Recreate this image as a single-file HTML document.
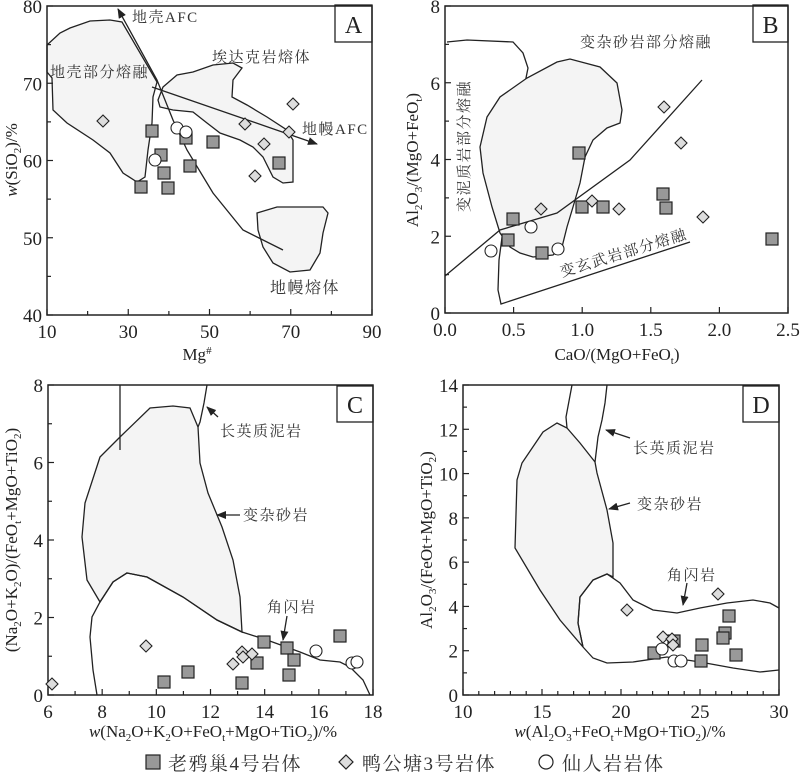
<!DOCTYPE html>
<html><head><meta charset="utf-8"><style>
body{margin:0;background:#fff}
svg{display:block}
text{font-family:"Liberation Serif","Noto Serif CJK SC",serif;fill:#222}
.cj{font-family:"Liberation Serif","Noto Serif CJK SC",serif;font-size:15px;fill:#333;letter-spacing:1.5px}
.ln{fill:none;stroke:#222;stroke-width:1.3}
.fl{fill:#f4f4f4;stroke:#222;stroke-width:1.3}
.ax{fill:none;stroke:#222;stroke-width:1.5}
</style></head><body>
<svg id="s" width="800" height="776" xmlns="http://www.w3.org/2000/svg">
<defs><marker id="ar" markerWidth="10" markerHeight="8" refX="9" refY="4" orient="auto" markerUnits="userSpaceOnUse"><path d="M0,0 L10,4 L0,8 z" fill="#222"/></marker></defs>

<!-- Panel A -->
<path class="fl" d="M47,45 L60,33 L70,28 L90,21 L110,20 L122,22 L157,82 L153,97 L152,123 L148,150 L145,177 L137,182 L123,173 L110,153 L93,140 L67,123 L53,110 L52,78 L47,72 Z"/>
<path class="fl" d="M158,100 L163,87 L177,75 L193,72 L213,65 L233,63 L242,68 L233,80 L232,97 L247,105 L267,117 L287,130 L293,140 L293,182 L283,183 L273,177 L263,157 L253,147 L240,140 L220,133 L207,123 L193,112 L173,110 L160,107 Z"/>
<path class="fl" d="M257,213 L277,207 L323,207 L328,213 L323,233 L320,253 L310,270 L290,272 L273,263 L263,247 L258,230 Z"/>
<path class="ln" d="M283,250 L243,230 L213,193 L187,150 L173,120 L157,80 L118,9" marker-end="url(#ar)"/>
<path class="ln" d="M152,87 L317,144" marker-end="url(#ar)"/>
<text class="cj" x="132" y="22">地壳AFC</text>
<text class="cj" x="50" y="77">地壳部分熔融</text>
<text class="cj" x="212" y="62">埃达克岩熔体</text>
<text class="cj" x="302" y="134">地幔AFC</text>
<text class="cj" x="270" y="293" style="font-size:16px">地幔熔体</text>
<rect x="335" y="5" width="37" height="37" fill="#fff" stroke="#222" stroke-width="1.3"/>
<text x="353.5" y="33" text-anchor="middle" font-size="24">A</text>

<!-- Panel B -->
<path class="ln" d="M447,42 L467,40 L513,42 L523,53 L528,68 L525,83 L513,107 L500,130 L492,150 L493,180 L498,207 L503,230 L499,260 L498,290 L501,304 L690,242"/>
<path class="fl" d="M480,147 L487,117 L500,97 L527,78 L557,62 L570,59 L600,67 L617,83 L622,110 L620,123 L607,128 L593,140 L585,157 L580,183 L573,207 L567,227 L562,247 L553,255 L533,257 L520,253 L510,247 L500,233 L492,207 L483,173 Z"/>
<path class="ln" d="M445,276 L500,230 L557,213 L630,160 L702,80"/>
<text class="cj" x="580" y="47">变杂砂岩部分熔融</text>
<text class="cj" transform="translate(469,212) rotate(-90)">变泥质岩部分熔融</text>
<text class="cj" transform="translate(562,277) rotate(-17)">变玄武岩部分熔融</text>
<rect x="753" y="5" width="35" height="37" fill="#fff" stroke="#222" stroke-width="1.3"/>
<text x="770.5" y="33" text-anchor="middle" font-size="24">B</text>

<!-- Panel C -->
<path class="fl" d="M100,602 L87,580 L82,537 L85,503 L100,457 L120,437 L150,408 L173,406 L190,408 L198,427 L200,463 L208,493 L222,527 L233,560 L240,597 L242,632 L217,620 L183,597 L147,577 L127,573 L113,582 Z"/>
<path class="ln" d="M97,695 L93,670 L90,637 L92,617 L100,602 L113,582 L127,573 L147,577 L183,597 L217,620 L242,632 L267,640 L300,652 L320,660 L340,662 L350,667 L363,680 L370,695"/>
<path class="ln" d="M120,385 L120,450 M207,385 L204,403 L200,422 L198,427"/>
<path class="ln" d="M218,417 L207,407" marker-end="url(#ar)"/>
<text class="cj" x="220" y="436">长英质泥岩</text>
<path class="ln" d="M240,515 L217,515" marker-end="url(#ar)"/>
<text class="cj" x="243" y="520">变杂砂岩</text>
<path class="ln" d="M287,616 L283,640" marker-end="url(#ar)"/>
<text class="cj" x="267" y="612">角闪岩</text>
<rect x="337" y="386" width="36" height="36" fill="#fff" stroke="#222" stroke-width="1.3"/>
<text x="355" y="413" text-anchor="middle" font-size="24">C</text>

<!-- Panel D -->
<path class="fl" d="M515,548 L517,480 L522,463 L543,432 L557,423 L567,428 L580,443 L595,462 L597,473 L607,510 L613,543 L613,577 L607,574 L593,580 L580,597 L578,623 L583,647 L560,620 L540,590 Z"/>
<path class="ln" d="M583,647 L578,623 L580,597 L593,580 L607,574 L620,583 L633,600 L653,610 L677,613 L700,608 L727,603 L753,600 L770,603 L779,608 M779,670 L760,672 L733,668 L700,662 L667,657 L633,662 L607,663 L593,658 L583,647"/>
<path class="ln" d="M572,385 L566,417 L567,428 M607,385 L605,403 L602,420 L598,437 L595,462"/>
<path class="ln" d="M630,438 L606,430" marker-end="url(#ar)"/>
<text class="cj" x="633" y="453">长英质泥岩</text>
<path class="ln" d="M630,503 L609,509" marker-end="url(#ar)"/>
<text class="cj" x="637" y="509">变杂砂岩</text>
<path class="ln" d="M687,583 L683,605" marker-end="url(#ar)"/>
<text class="cj" x="667" y="580">角闪岩</text>
<rect x="743" y="386" width="36" height="36" fill="#fff" stroke="#222" stroke-width="1.3"/>
<text x="761" y="413" text-anchor="middle" font-size="24">D</text>

<!-- axis titles -->
<text x="197" y="360" text-anchor="middle" font-size="17">Mg<tspan dy="-6" font-size="11">#</tspan></text>
<text transform="translate(17,160) rotate(-90)" text-anchor="middle" font-size="17"><tspan font-style="italic">w</tspan>(SiO<tspan dy="4" font-size="11">2</tspan><tspan dy="-4">)/%</tspan></text>
<text x="617" y="360" text-anchor="middle" font-size="17">CaO/(MgO+FeO<tspan dy="4" font-size="11">t</tspan><tspan dy="-4">)</tspan></text>
<text transform="translate(418,160) rotate(-90)" text-anchor="middle" font-size="17">Al<tspan dy="4" font-size="11">2</tspan><tspan dy="-4">O</tspan><tspan dy="4" font-size="11">3</tspan><tspan dy="-4">/(MgO+FeO</tspan><tspan dy="4" font-size="11">t</tspan><tspan dy="-4">)</tspan></text>
<text x="213" y="737" text-anchor="middle" font-size="17"><tspan font-style="italic">w</tspan>(Na<tspan dy="4" font-size="11">2</tspan><tspan dy="-4">O+K</tspan><tspan dy="4" font-size="11">2</tspan><tspan dy="-4">O+FeO</tspan><tspan dy="4" font-size="11">t</tspan><tspan dy="-4">+MgO+TiO</tspan><tspan dy="4" font-size="11">2</tspan><tspan dy="-4">)/%</tspan></text>
<text transform="translate(17,540) rotate(-90)" text-anchor="middle" font-size="17">(Na<tspan dy="4" font-size="11">2</tspan><tspan dy="-4">O+K</tspan><tspan dy="4" font-size="11">2</tspan><tspan dy="-4">O)/(FeO</tspan><tspan dy="4" font-size="11">t</tspan><tspan dy="-4">+MgO+TiO</tspan><tspan dy="4" font-size="11">2</tspan><tspan dy="-4">)</tspan></text>
<text x="620" y="737" text-anchor="middle" font-size="17"><tspan font-style="italic">w</tspan>(Al<tspan dy="4" font-size="11">2</tspan><tspan dy="-4">O</tspan><tspan dy="4" font-size="11">3</tspan><tspan dy="-4">+FeO</tspan><tspan dy="4" font-size="11">t</tspan><tspan dy="-4">+MgO+TiO</tspan><tspan dy="4" font-size="11">2</tspan><tspan dy="-4">)/%</tspan></text>
<text transform="translate(432,540) rotate(-90)" text-anchor="middle" font-size="17">Al<tspan dy="4" font-size="11">2</tspan><tspan dy="-4">O</tspan><tspan dy="4" font-size="11">3</tspan><tspan dy="-4">/(FeOt+MgO+TiO</tspan><tspan dy="4" font-size="11">2</tspan><tspan dy="-4">)</tspan></text>

<!-- legend -->
<rect x="146" y="755" width="14" height="14" fill="#999" stroke="#222" stroke-width="1.2"/>
<text class="cj" x="168" y="770" style="font-size:19px">老鸦巢4号岩体</text>
<path d="M346,755 L353,762 L346,769 L339,762 Z" fill="#ddd" stroke="#222" stroke-width="1.2"/>
<text class="cj" x="362" y="770" style="font-size:19px">鸭公塘3号岩体</text>
<circle cx="546" cy="762" r="7" fill="#fff" stroke="#222" stroke-width="1.2"/>
<text class="cj" x="562" y="770" style="font-size:19px">仙人岩岩体</text>
<g id="dyn"></g>
</svg>
<script>
var g=document.getElementById('dyn'),h='';
function axes(x0,y0,x1,y1,xv,xmaj,xmin,yv,ymaj,ymin,fmt){
 h+='<rect class="ax" x="'+x0+'" y="'+y0+'" width="'+(x1-x0)+'" height="'+(y1-y0)+'"/>';
 var X=function(v){return x0+(v-xv[0])/(xv[1]-xv[0])*(x1-x0)},Y=function(v){return y1-(v-yv[0])/(yv[1]-yv[0])*(y1-y0)};
 for(var v=xv[0];v<=xv[1]+1e-9;v+=xmin){var p=X(v),maj=Math.abs(Math.round((v-xv[0])/xmaj)*xmaj-(v-xv[0]))<1e-6;h+='<line x1="'+p+'" y1="'+y1+'" x2="'+p+'" y2="'+(y1-(maj?6:4))+'" stroke="#222" stroke-width="1.2"/>';if(maj)h+='<text x="'+p+'" y="'+(y1+23)+'" text-anchor="middle" font-size="19">'+(fmt?v.toFixed(1):Math.round(v))+'</text>';}
 for(var v=yv[0];v<=yv[1]+1e-9;v+=ymin){var p=Y(v),maj=Math.abs(Math.round((v-yv[0])/ymaj)*ymaj-(v-yv[0]))<1e-6;h+='<line x1="'+x0+'" y1="'+p+'" x2="'+(x0+(maj?6:4))+'" y2="'+p+'" stroke="#222" stroke-width="1.2"/>';if(maj)h+='<text x="'+(x0-5)+'" y="'+(p+7)+'" text-anchor="end" font-size="19">'+Math.round(v)+'</text>';}
}
axes(47,6,372,315,[10,90],20,10,[40,80],10,5,0);
axes(445,6,788,313,[0,2.5],0.5,0.5,[0,8],2,1,1);
axes(48,385,373,695,[6,18],2,1,[0,8],2,1,0);
axes(463,385,779,695,[10,30],5,1,[0,14],2,1,0);
function sq(x,y){h+='<rect x="'+(x-6)+'" y="'+(y-6)+'" width="12" height="12" fill="#999" stroke="#222" stroke-width="1.2"/>';}
function di(x,y){h+='<path d="M'+x+','+(y-6)+' L'+(x+6)+','+y+' L'+x+','+(y+6)+' L'+(x-6)+','+y+' Z" fill="#ddd" stroke="#222" stroke-width="1.1"/>';}
function ci(x,y){h+='<circle cx="'+x+'" cy="'+y+'" r="6" fill="#fff" stroke="#222" stroke-width="1.1"/>';}
[[152,131],[161,155],[141,187],[164,173],[168,188],[186,138],[190,166],[213,142],[279,163],
 [513,219],[508,240],[542,253],[579,153],[582,207],[603,207],[663,194],[666,208],[772,239],
 [164,682],[188,672],[242,683],[257,663],[264,642],[287,648],[289,675],[294,660],[340,636],
 [654,653],[674,641],[702,645],[701,661],[725,633],[723,638],[729,616],[736,655]].forEach(function(p){sq(p[0],p[1])});
[[103,121],[245,124],[264,144],[255,176],[289,132],[293,104],
 [541,209],[592,201],[619,209],[664,107],[681,143],[703,217],
 [52,684],[146,646],[233,664],[242,652],[243,657],[252,654],
 [627,610],[718,594],[663,637],[672,639],[673,645]].forEach(function(p){di(p[0],p[1])});
[[177,128],[186,132],[155,160],[491,251],[531,227],[558,249],[316,651],[352,663],[357,662],[662,649],[674,661],[681,661]].forEach(function(p){ci(p[0],p[1])});
g.innerHTML=h;
</script>
</body></html>
